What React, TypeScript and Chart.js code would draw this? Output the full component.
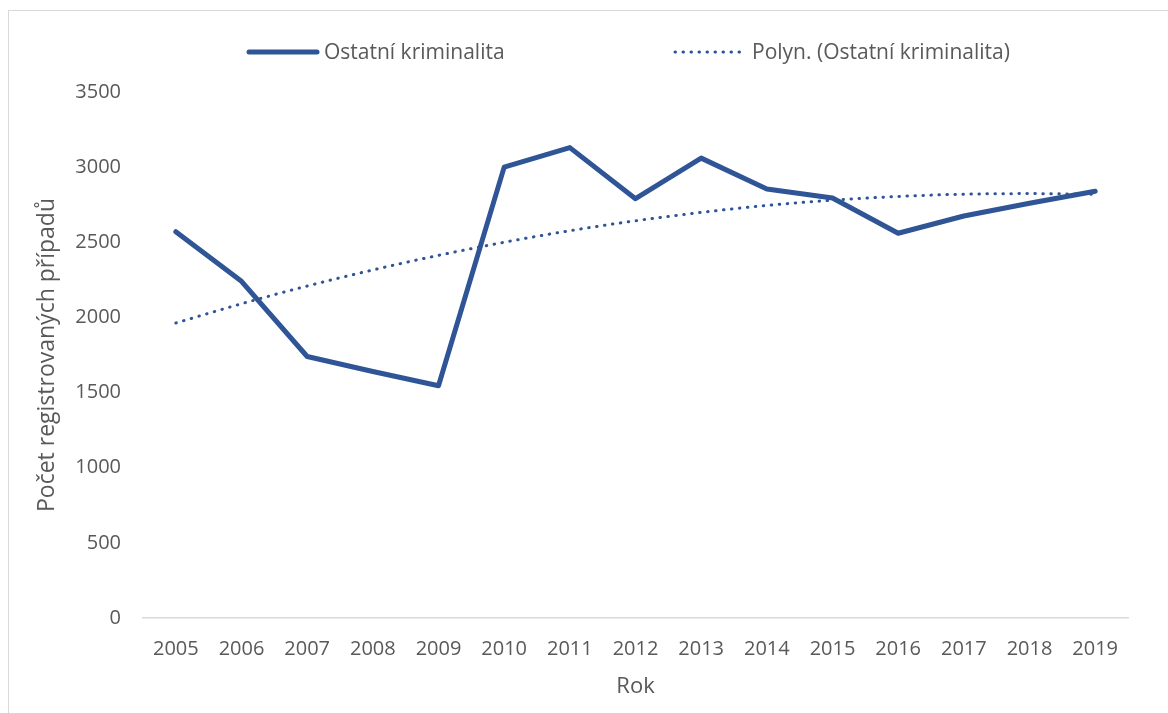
import React, { useEffect, useRef } from "react";
import { Chart, registerables } from "chart.js";

Chart.register(...registerables);

const years = ["2005","2006","2007","2008","2009","2010","2011","2012","2013","2014","2015","2016","2017","2018","2019"];
const ostatni = [2570, 2240, 1740, 1640, 1545, 3000, 3130, 2790, 3060, 2855, 2795, 2560, 2675, 2760, 2840];
const polyTrend = [1963, 2091, 2209, 2316, 2413, 2500, 2577, 2643, 2699, 2745, 2780, 2805, 2820, 2824, 2819];
const seriesLabel = "Ostatní kriminalita";
const trendLabel = "Polyn. (Ostatní kriminalita)";
const yTitle = "Počet registrovaných případů";
const xTitle = "Rok";

const FONT = "'Open Sans', Lato, sans-serif";
const TEXT = "#595959";
const BLUE = "#2F5597";

const legendPlugin = {
  id: "customLegend",
  afterDraw(chart: any) {
    const ctx = chart.ctx;
    ctx.save();
    const y = 52;
    ctx.strokeStyle = BLUE;
    ctx.lineWidth = 5;
    ctx.lineCap = "round";
    ctx.setLineDash([]);
    ctx.beginPath();
    ctx.moveTo(249, y);
    ctx.lineTo(317, y);
    ctx.stroke();
    ctx.lineWidth = 3;
    ctx.setLineDash([0.5, 7.5]);
    ctx.beginPath();
    ctx.moveTo(675, y);
    ctx.lineTo(745, y);
    ctx.stroke();
    ctx.setLineDash([]);
    ctx.fillStyle = TEXT;
    ctx.font = "21px " + FONT;
    ctx.textBaseline = "middle";
    ctx.textAlign = "left";
    ctx.fillText(seriesLabel, 324, y + 1);
    ctx.fillText(trendLabel, 752, y + 1);
    ctx.restore();
  },
};

export default function App() {
  const ref = useRef<HTMLCanvasElement>(null);
  useEffect(() => {
    if (!ref.current) return;
    const chart = new Chart(ref.current, {
      type: "line",
      data: {
        labels: years,
        datasets: [
          {
            label: seriesLabel,
            data: ostatni,
            borderColor: BLUE,
            backgroundColor: BLUE,
            borderWidth: 5,
            pointRadius: 0,
            borderCapStyle: "round",
            borderJoinStyle: "round",
            tension: 0,
          },
          {
            label: trendLabel,
            data: polyTrend,
            borderColor: BLUE,
            backgroundColor: BLUE,
            borderWidth: 3,
            borderDash: [0.5, 7.5],
            borderCapStyle: "round",
            pointRadius: 0,
            cubicInterpolationMode: "monotone",
          },
        ],
      },
      plugins: [legendPlugin],
      options: {
        animation: false,
        responsive: false,
        maintainAspectRatio: false,
        layout: { padding: { top: 92, left: 0, right: 40, bottom: 0 } },
        plugins: {
          legend: { display: false },
          tooltip: { enabled: false },
        },
        scales: {
          x: {
            offset: true,
            grid: { display: false, drawTicks: false },
            border: { display: true, color: "#D9D9D9", width: 1.5 },
            ticks: {
              color: TEXT,
              font: { family: FONT, size: 20 },
              padding: 19,
              maxRotation: 0,
              autoSkip: false,
            },
            title: {
              display: true,
              text: xTitle,
              color: TEXT,
              font: { family: FONT, size: 22 },
              padding: { top: 0, bottom: 13 },
            },
            afterFit: (s: any) => { s.height = 95; },
          },
          y: {
            min: 0,
            max: 3500,
            grid: { display: false, drawTicks: false },
            border: { display: false },
            ticks: {
              stepSize: 500,
              color: TEXT,
              font: { family: FONT, size: 20 },
              padding: 22,
              callback: (v: any) => String(v),
            },
            title: {
              display: true,
              text: yTitle,
              color: TEXT,
              font: { family: FONT, size: 23 },
              padding: { top: 34, bottom: 0 },
            },
            afterFit: (s: any) => { s.width = 143; },
          },
        },
      },
    });
    return () => chart.destroy();
  }, []);
  return (
    <div style={{ position: "absolute", left: 0, top: 0, width: 1168, height: 713, background: "#fff", overflow: "hidden" }}>
      <div style={{ position: "absolute", left: 8, top: 10, width: 1200, height: 800, border: "1.5px solid #D9D9D9", boxSizing: "border-box" }} />
      <canvas ref={ref} width={1168} height={713} style={{ position: "absolute", left: 0, top: 0, width: 1168, height: 713 }} />
    </div>
  );
}
